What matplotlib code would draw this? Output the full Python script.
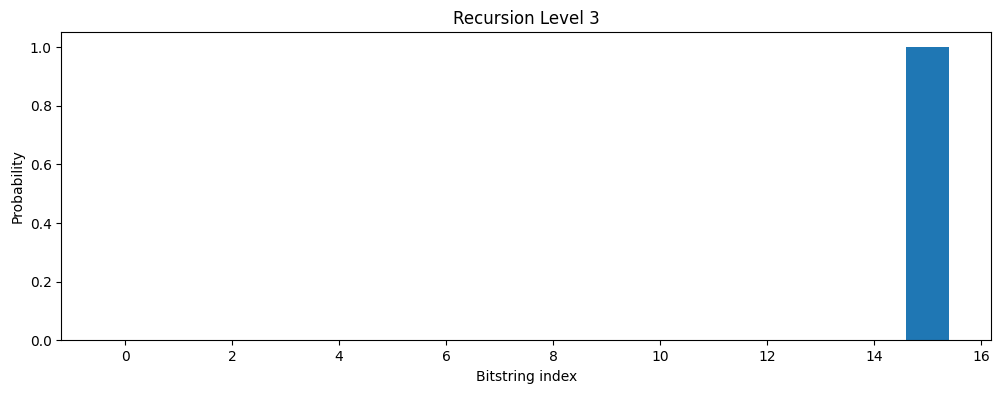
import matplotlib
matplotlib.use("Agg")
import matplotlib.pyplot as plt

# probabilities per bitstring index after recursion level 3
indices = list(range(16))
probabilities = [0.0] * 15 + [1.0]

fig = plt.figure(figsize=(10.01, 3.93), dpi=100)
ax = fig.add_axes([0.0614, 0.1336, 0.929, 0.784])
ax.bar(indices, probabilities)
ax.set_xlabel("Bitstring index")
ax.set_ylabel("Probability")
ax.set_title("Recursion Level 3")

fig.savefig("out.png", dpi=100)
